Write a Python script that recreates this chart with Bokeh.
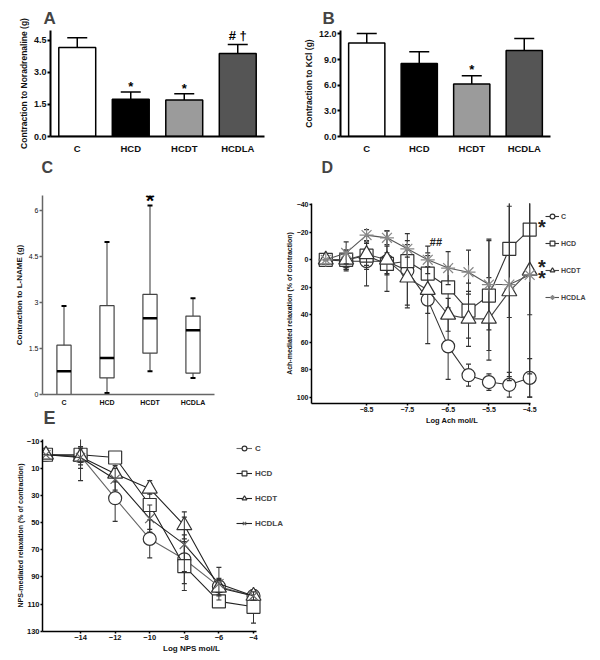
from bokeh.plotting import figure
from bokeh.models import (Range1d, FactorRange, FixedTicker, ColumnDataSource,
                          Legend, LegendItem, Title, Spacer)
from bokeh.layouts import column, row
from bokeh.embed import file_html
from bokeh.resources import INLINE
from bokeh.core.properties import value

FONT = "Liberation Sans"

groups = ["C", "HCD", "HCDT", "HCDLA"]
bar_colors = ["#ffffff", "#000000", "#9b9b9b", "#555555"]

# Panel A - contraction to noradrenaline (g)
na_mean = [4.17, 1.74, 1.71, 3.88]
na_err = [0.45, 0.34, 0.29, 0.42]
na_ticks = [0, 1.5, 3.0, 4.5]
na_tick_labels = ["0.0", "1.5", "3.0", "4.5"]
na_mark_groups = ["HCD", "HCDT", "HCDLA"]
na_mark_y = [2.32, 2.24, 4.74]
na_marks = ["*", "*", "# \u2020"]

# Panel B - contraction to KCl (g)
kcl_mean = [10.95, 8.55, 6.15, 10.05]
kcl_err = [1.1, 1.35, 0.95, 1.4]
kcl_ticks = [0, 3, 6, 9, 12]
kcl_tick_labels = ["0.0", "3.0", "6.0", "9.0", "12.0"]
kcl_mark_groups = ["HCDT"]
kcl_mark_y = [7.8]
kcl_marks = ["*"]

# Panel C - contraction to L-NAME (g), box plot
ln_low = [0.0, 0.05, 0.76, 0.54]
ln_q1 = [0.0, 0.54, 1.35, 0.70]
ln_med = [0.76, 1.19, 2.49, 2.10]
ln_q3 = [1.61, 2.90, 3.27, 2.56]
ln_high = [2.89, 4.98, 6.17, 3.14]
ln_ticks = [0, 1.5, 3, 4.5, 6]
ln_tick_labels = ["0", "1.5", "3", "4.5", "6"]
ln_mark_groups = ["HCDT"]
ln_mark_y = [6.33]
ln_marks = ["*"]

# Panel D - Ach-mediated relaxation (% of contraction)
ach_x = [-9.5, -9, -8.5, -8, -7.5, -7, -6.5, -6, -5.5, -5, -4.5]
ach_C = [0, 1, 1, 1, 8, 29, 63, 84, 89, 91, 86]
ach_HCD = [0, 0, -3, 3, 1, 10, 20, 37, 26, -8, -22]
ach_HCDT = [0, 0, -4, 0, 13, 22, 40, 43, 43, 23, 8]
ach_HCDLA = [0, -5, -18, -16, -8, 0, 6, 9, 18, 18, 11]
ach_C_err = [0, 7, 18, 22, 27, 32, 24, 8, 6, 9, 14]
ach_HCD_err = [0, 7, 10, 8, 12, 15, 15, 20, 40, 50, 62]
ach_HCDT_err = [0, 7, 8, 10, 20, 17, 12, 20, 30, 62, 75]
ach_HCDLA_err = [0, 8, 4, 5, 6, 10, 12, 16, 33, 70, 89]
ach_ticks = [-8.5, -7.5, -6.5, -5.5, -4.5]
ach_y_ticks = [-40, -20, 0, 20, 40, 60, 80, 100]
ach_note_x = [-6.8, -4.2, -4.2, -4.2]
ach_note_y = [-13, -24, 5, 13]
ach_notes = ["##", "*", "*", "*"]
ach_note_size = ["11px", "20px", "20px", "20px"]

# Panel E - NPS-mediated relaxation (% of contraction)
nps_x = [-16, -14, -12, -10, -8, -6, -4]
nps_C = [0, 1, 32, 62, 77, 97, 104]
nps_HCD = [0, 0, 2, 37, 82, 108, 112]
nps_HCDT = [0, 1.5, 14, 25, 52, 98, 104]
nps_HCDLA = [0, 2, 18, 47, 66, 95, 104]
nps_C_err = [0, 18, 17, 14, 18, 6, 4]
nps_HCD_err = [0, 5, 4, 18, 18, 3, 12]
nps_HCDT_err = [0, 6, 6, 4, 10, 6, 3]
nps_HCDLA_err = [0, 8, 8, 10, 20, 12, 3]
nps_ticks = [-14, -12, -10, -8, -6, -4]
nps_y_ticks = [-10, 10, 30, 50, 70, 90, 110, 130]


def style(p, tick_size, label_size, bold_ticks=True, color="black", width=1.5, tick_out=3):
    p.grid.visible = False
    p.outline_line_color = None
    p.background_fill_color = "white"
    p.border_fill_color = "white"
    for ax in p.axis:
        ax.axis_line_width = width
        ax.axis_line_color = color
        ax.major_tick_line_color = color
        ax.major_tick_line_width = width
        ax.major_tick_in = 0
        ax.major_tick_out = tick_out
        ax.minor_tick_line_color = None
        ax.major_label_text_font = FONT
        ax.major_label_text_font_size = tick_size
        ax.major_label_text_font_style = "bold" if bold_ticks else "normal"
        ax.major_label_text_color = "#111111"
        ax.axis_label_text_font = FONT
        ax.axis_label_text_font_size = label_size
        ax.axis_label_text_font_style = "bold"
        ax.axis_label_text_color = "#111111"
        ax.major_label_standoff = 1
        ax.axis_label_standoff = 2


def set_title(p, text, offset, standoff, size="17px"):
    p.title.text = text
    p.title.text_font = FONT
    p.title.text_font_size = size
    p.title.text_font_style = "bold"
    p.title.align = "left"
    p.title.offset = offset
    p.title.standoff = standoff


def panel_letter(p, text, offset, size, standoff=0):
    p.add_layout(Title(text=text, text_font=FONT, text_font_size=size, text_font_style="bold",
                       align="left", offset=offset, standoff=standoff), "below")


def make_bar(title, toff, ylabel, means, errs, ymax, ticks, tlabels, mg, my, mt, w, bl, br):
    p = figure(x_range=FactorRange(factors=groups, range_padding=0), y_range=Range1d(0, ymax),
               width=w, height=175, output_backend="svg", toolbar_location=None,
               min_border_left=bl, min_border_right=br, min_border_top=30, min_border_bottom=37)
    src = ColumnDataSource(dict(x=groups, top=means,
                                hi=[m + e for m, e in zip(means, errs)], color=bar_colors))
    p.segment(x0="x", y0="top", x1="x", y1="hi", source=src, line_color="black", line_width=1.5)
    p.scatter(x="x", y="hi", source=src, marker="dash", size=20, line_color="black", line_width=1.5)
    p.vbar(x="x", top="top", width=0.69, source=src, fill_color="color",
           line_color="black", line_width=1.5)
    p.text(x=mg, y=my, text=mt, text_align="center", text_baseline="middle",
           text_font=value(FONT), text_font_size="13px", text_font_style="bold", text_color="black")
    style(p, "9px", "8.5px", width=2)
    p.yaxis.ticker = FixedTicker(ticks=ticks)
    p.yaxis.major_label_overrides = {t: l for t, l in zip(ticks, tlabels)}
    p.yaxis.axis_label = ylabel
    p.xaxis.major_tick_line_color = None
    p.xaxis.major_label_text_font_size = "9.5px"
    p.xaxis.major_label_standoff = 3
    set_title(p, title, toff, 6)
    return p


pA = make_bar("A", -7, "Contraction to Noradrenaline (g)", na_mean, na_err, 4.96,
              na_ticks, na_tick_labels, na_mark_groups, na_mark_y, na_marks, 298, 50, 34)
pB = make_bar("B", -18, "Contraction to KCl (g)", kcl_mean, kcl_err, 12.4,
              kcl_ticks, kcl_tick_labels, kcl_mark_groups, kcl_mark_y, kcl_marks, 290, 42, 38)
panel_letter(pA, "C", -9, "16px")
panel_letter(pB, "D", -19, "16px")

# Panel C
pC = figure(x_range=FactorRange(factors=groups, range_padding=0), y_range=Range1d(0, 6.5),
            width=280, height=255, output_backend="svg", toolbar_location=None,
            min_border_left=42, min_border_right=66, min_border_top=20, min_border_bottom=36)
csrc = ColumnDataSource(dict(x=groups, low=ln_low, q1=ln_q1, med=ln_med, q3=ln_q3, high=ln_high))
pC.segment(x0="x", y0="low", x1="x", y1="high", source=csrc, line_color="#777777", line_width=1.5)
pC.scatter(x="x", y="high", source=csrc, marker="dash", size=5, line_color="black", line_width=2)
pC.scatter(x="x", y="low", source=csrc, marker="dash", size=5, line_color="black", line_width=2)
pC.vbar(x="x", bottom="q1", top="q3", width=0.33, source=csrc, fill_color="white",
        line_color="#444444", line_width=1.2)
pC.rect(x="x", y="med", width=0.33, height=2.5, height_units="screen", source=csrc,
        fill_color="black", line_color=None)
pC.text(x=ln_mark_groups, y=ln_mark_y, text=ln_marks, text_align="center", text_baseline="middle",
        text_font=value(FONT), text_font_size="22px", text_font_style="bold", text_color="black")
style(pC, "7px", "8px", bold_ticks=False, color="#666666", width=1.5)
pC.yaxis.ticker = FixedTicker(ticks=ln_ticks)
pC.yaxis.major_label_overrides = {t: l for t, l in zip(ln_ticks, ln_tick_labels)}
pC.yaxis.axis_label = "Contraction to L-NAME (g)"
pC.xaxis.major_tick_line_color = None
pC.xaxis.major_label_text_font_style = "bold"
pC.xaxis.major_label_text_font_size = "7px"
pC.xaxis.major_label_standoff = 1
pC.title.text = ""
panel_letter(pC, "E", 1, "18px", -5)


def add_series(p, x, y, err, marker, size, lcolor, mcolor, mline=1.2):
    src = ColumnDataSource(dict(x=x, y=y, lo=[a - b for a, b in zip(y, err)],
                                hi=[a + b for a, b in zip(y, err)]))
    p.segment(x0="x", y0="lo", x1="x", y1="hi", source=src, line_color="#333333", line_width=1)
    p.scatter(x="x", y="lo", source=src, marker="dash", size=5, line_color="#333333", line_width=1.2)
    p.scatter(x="x", y="hi", source=src, marker="dash", size=5, line_color="#333333", line_width=1.2)
    ln = p.line(x="x", y="y", source=src, line_color=lcolor, line_width=1.1)
    sc = p.scatter(x="x", y="y", source=src, marker=marker, size=size, fill_color="white",
                   line_color=mcolor, line_width=mline)
    return [ln, sc]


def make_legend(renderers, font_size, spacing, loc, gw, standoff):
    return Legend(items=[LegendItem(label=g, renderers=r) for g, r in zip(groups, renderers)],
                  location=loc, padding=0, margin=0, spacing=spacing,
                  label_height=12, glyph_height=12, glyph_width=gw, label_standoff=standoff,
                  label_text_font=FONT, label_text_font_size=font_size,
                  label_text_font_style="bold",
                  border_line_color=None, background_fill_alpha=0)


# Panel D  (frame extends right to hold legend; the x axis line is bounded)
pD = figure(x_range=Range1d(-9.85, -2.96), y_range=Range1d(104.6, -41),
            width=312, height=247, output_backend="svg", toolbar_location=None,
            min_border_left=31, min_border_right=0, min_border_top=20, min_border_bottom=27)
rD = [add_series(pD, ach_x, ach_C, ach_C_err, "circle", 13, "#333333", "#333333"),
      add_series(pD, ach_x, ach_HCD, ach_HCD_err, "square", 13, "#333333", "#333333"),
      add_series(pD, ach_x, ach_HCDT, ach_HCDT_err, "triangle", 15, "#444444", "#333333"),
      add_series(pD, ach_x, ach_HCDLA, ach_HCDLA_err, "asterisk", 14, "#555555", "#888888")]
pD.text(x=ach_note_x, y=ach_note_y, text=ach_notes, text_align="center", text_baseline="middle",
        text_font=value(FONT), text_font_size=ach_note_size, text_font_style="bold",
        text_color="#222222")
style(pD, "7px", "7.5px", width=1.5, tick_out=2)
pD.xaxis.ticker = FixedTicker(ticks=ach_ticks)
pD.xaxis.bounds = (-9.85, -4.47)
pD.yaxis.ticker = FixedTicker(ticks=ach_y_ticks)
pD.xaxis.axis_label = "Log Ach mol/L"
pD.xaxis.axis_label_standoff = 1
pD.yaxis.axis_label = "Ach-mediated relaxation (% of contraction)"
pD.yaxis.axis_label_text_font_size = "7px"
pD.yaxis.axis_label_standoff = 1
pD.add_layout(make_legend(rD, "7px", 15, (234, 100), 14, 2), "center")

# Panel E  (frame extends right to hold legend; the x axis line is bounded)
pE = figure(x_range=Range1d(-16.2, 1.03), y_range=Range1d(130.2, -11.25),
            width=340, height=228, output_backend="svg", toolbar_location=None,
            min_border_left=42, min_border_right=0, min_border_top=9, min_border_bottom=27)
rE = [add_series(pE, nps_x, nps_C, nps_C_err, "circle", 13, "#666666", "#333333"),
      add_series(pE, nps_x, nps_HCD, nps_HCD_err, "square", 13, "#222222", "#333333"),
      add_series(pE, nps_x, nps_HCDT, nps_HCDT_err, "triangle", 15, "#222222", "#333333"),
      add_series(pE, nps_x, nps_HCDLA, nps_HCDLA_err, "x", 13, "#222222", "#666666")]
style(pE, "7.5px", "8px", width=1.5, tick_out=2)
pE.xaxis.ticker = FixedTicker(ticks=nps_ticks)
pE.xaxis.bounds = (-16.2, -3.8)
pE.yaxis.ticker = FixedTicker(ticks=nps_y_ticks)
pE.xaxis.axis_label = "Log NPS mol/L"
pE.xaxis.axis_label_standoff = 1
pE.yaxis.axis_label = "NPS-mediated relaxation (% of contraction)"
pE.yaxis.axis_label_text_font_size = "7px"
pE.yaxis.axis_label_standoff = 0
pE.add_layout(make_legend(rE, "8px", 13, (194, 102), 16, 3), "center")

layout = column(row(pA, pB), row(pC, column(Spacer(width=312, height=8), pD)), pE)
open("out.html", "w").write(file_html(layout, INLINE))
